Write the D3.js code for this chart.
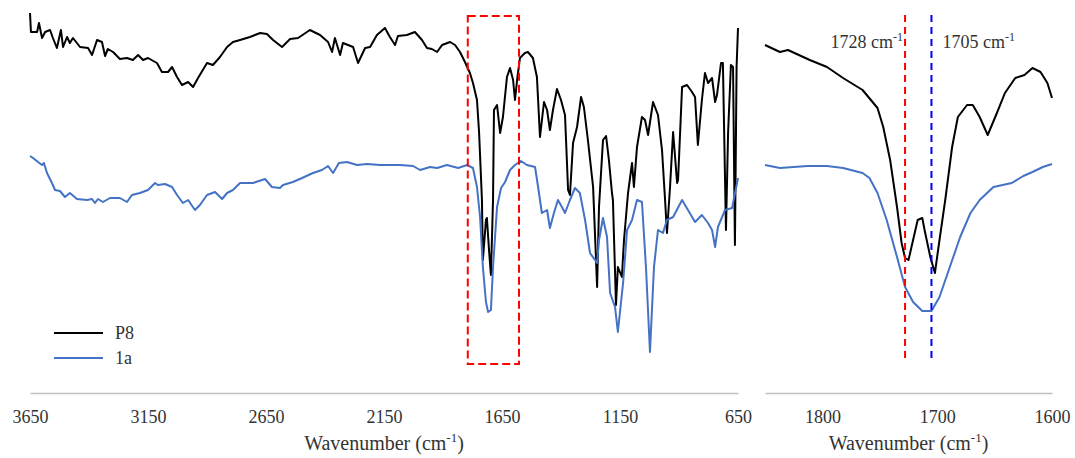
<!DOCTYPE html>
<html lang="en">
<head>
  <meta charset="UTF-8" />
  <title>FTIR – P8 vs 1a</title>
  <script src="https://d3js.org/d3.v7.min.js"></script>
  <style>
    body {
      margin: 0;
      background: #fff;
    }
    svg {
      display: block;
    }
    svg text {
      font-family: "Liberation Serif", "Times New Roman", serif;
    }
    .axis text {
      font-size: 18px;
      fill: #333;
    }
    .axis .domain {
      stroke: #bfbfbf;
      stroke-width: 1.5;
    }
    .title {
      font-size: 20px;
      fill: #333;
    }
  </style>
</head>
<body>
  <svg width="1075" height="458"></svg>

  <script>
    // full range spectra [wavenumber, transmittance a.u.]
    const p8Full = [
      [3650, 96.75], [3646, 92], [3620, 92], [3612, 94.25], [3599, 90.5], [3586, 92], [3565, 92.5],
      [3553, 90.5], [3536, 88], [3519, 92.5], [3510, 88.25], [3493, 90.75], [3481, 89.25], [3468, 90.5],
      [3438, 88.25], [3404, 88], [3387, 86.25], [3366, 90], [3345, 89.5], [3332, 86], [3320, 87.75],
      [3298, 87], [3269, 85.25], [3239, 85.5], [3214, 85], [3192, 86.25], [3171, 85], [3150, 85.5],
      [3112, 84.25], [3091, 82], [3065, 82], [3048, 83.25], [3027, 80.75], [3006, 78.75], [2980, 79.5],
      [2959, 78.25], [2938, 80.5], [2900, 84.25], [2875, 83.75], [2845, 85.75], [2815, 88.25],
      [2790, 89.5], [2760, 90], [2718, 90.75], [2675, 91.75], [2646, 91.5], [2620, 90], [2582, 88.25],
      [2548, 90.25], [2514, 90.5], [2464, 92.5], [2421, 91.25], [2387, 89.5], [2370, 87], [2358, 90.5],
      [2336, 86.25], [2324, 89.25], [2281, 88.25], [2260, 84.25], [2230, 88], [2209, 88.25],
      [2180, 91.25], [2146, 93], [2125, 90.75], [2103, 88.75], [2091, 91], [2053, 91.25], [2019, 92],
      [1989, 90], [1968, 88], [1947, 87.75], [1925, 87], [1904, 88.75], [1870, 89.5], [1849, 88.75],
      [1828, 87], [1807, 84.5], [1786, 81.75], [1773, 79.25], [1756, 75], [1747, 66.75], [1735, 50],
      [1731, 35], [1718, 45], [1714, 45.5], [1705, 37.5], [1697, 31.25], [1688, 50], [1684, 72.5],
      [1671, 73.75], [1658, 66.75], [1646, 70.75], [1629, 80.75], [1616, 83], [1603, 80], [1595, 75],
      [1586, 80], [1574, 85.5], [1553, 86.75], [1540, 87], [1519, 85.5], [1502, 80.75], [1489, 65.75],
      [1472, 74.5], [1459, 72.5], [1447, 67.5], [1434, 72.5], [1417, 77.75], [1400, 75], [1383, 71.25],
      [1370, 52.5], [1362, 51.25], [1349, 64.25], [1332, 68.25], [1315, 75.75], [1303, 73.25],
      [1286, 65], [1264, 53.25], [1247, 28.25], [1239, 48.25], [1222, 65], [1209, 66], [1197, 60],
      [1184, 51.75], [1180, 50], [1167, 23.75], [1159, 33.25], [1142, 30.75], [1133, 40], [1116, 51.75],
      [1099, 59.25], [1091, 53.25], [1078, 63.25], [1057, 70.75], [1044, 70], [1031, 66.25],
      [1010, 74.5], [989, 71.25], [972, 62.5], [959, 50], [951, 41.75], [938, 53.25], [925, 67],
      [908, 54.25], [904, 55], [887, 78.25], [866, 78.75], [845, 77], [832, 75.75], [820, 63.75],
      [803, 75], [790, 81.75], [777, 79.25], [760, 80.5], [747, 74.5], [739, 76.25], [722, 84.25],
      [714, 84.25], [701, 42.5], [692, 66.75], [680, 83.75], [671, 83.25], [663, 38.75], [656, 83.25],
      [650, 93]
    ];

    const a1Full = [
      [3650, 61], [3637, 60.5], [3616, 59.5], [3599, 58.75], [3591, 59.25], [3578, 56.75], [3557, 54.25],
      [3544, 52.5], [3523, 52.25], [3502, 50.75], [3481, 51.75], [3451, 50.25], [3408, 50], [3387, 50.25],
      [3375, 49.25], [3362, 50.25], [3341, 49.5], [3311, 50.5], [3269, 50.5], [3239, 49.5], [3218, 51.25],
      [3184, 51.75], [3150, 52.5], [3120, 54.25], [3108, 53.75], [3078, 54], [3048, 53.25], [3027, 51.25],
      [3002, 49.25], [2980, 50], [2951, 47.5], [2930, 48.75], [2900, 51.25], [2866, 52], [2836, 50.25],
      [2815, 51.75], [2790, 52.5], [2760, 54.25], [2705, 54.25], [2654, 55.25], [2625, 53.25],
      [2591, 53], [2578, 53.75], [2536, 54.5], [2497, 55.5], [2451, 56.75], [2413, 57.5], [2387, 58.5],
      [2366, 56.75], [2341, 59.25], [2307, 59.5], [2264, 58.75], [2222, 59], [2167, 58.75], [2082, 58.75],
      [2027, 58.5], [1997, 57.5], [1955, 58.25], [1925, 58], [1883, 58.75], [1836, 58], [1798, 58.75],
      [1773, 58], [1756, 53.25], [1743, 45.75], [1731, 33.25], [1718, 24.5], [1709, 22], [1697, 22.5],
      [1688, 33.25], [1671, 48.25], [1654, 53], [1637, 54.5], [1616, 57.5], [1595, 58.75], [1570, 59.75],
      [1544, 58.75], [1510, 58.25], [1497, 53.25], [1481, 46.75], [1459, 47.5], [1447, 43], [1430, 46.75],
      [1413, 50], [1396, 48.25], [1383, 46.75], [1362, 50], [1341, 53], [1320, 51.75], [1298, 45],
      [1277, 36.75], [1247, 34.25], [1239, 40], [1222, 45.5], [1205, 40.75], [1192, 26.75], [1171, 23.25],
      [1159, 17], [1137, 29.25], [1120, 42.5], [1099, 45], [1078, 50], [1057, 49.5], [1040, 33.25],
      [1023, 12], [1006, 33.25], [989, 42.5], [968, 41.75], [951, 45], [925, 45.75], [887, 50],
      [862, 47.5], [832, 44.5], [803, 46.25], [777, 44.25], [760, 42.5], [747, 38.25], [735, 43.25],
      [705, 47.5], [675, 48], [650, 55.5]
    ];

    // carbonyl region close-up
    const p8Zoom = [
      [1850, 88.75], [1837, 87], [1830, 87.5], [1811, 85], [1796, 83.25], [1782, 80.5], [1765, 77.5],
      [1752, 73], [1747, 68.25], [1741, 60], [1735, 48.25], [1731, 39.25], [1728, 35.5], [1725, 35],
      [1721, 40], [1717, 45], [1713, 45.5], [1711, 42.5], [1706, 35.75], [1702, 31.75], [1698, 40],
      [1693, 50], [1687, 63.25], [1682, 70.75], [1674, 73.75], [1669, 73.75], [1663, 70.75],
      [1656, 66.25], [1648, 71.75], [1641, 76.75], [1632, 80.5], [1624, 81.25], [1617, 83], [1610, 82],
      [1604, 79.25], [1600, 75.5]
    ];

    const a1Zoom = [
      [1850, 58.75], [1837, 58], [1813, 58.5], [1796, 58.5], [1782, 58], [1765, 56.75], [1759, 55.5],
      [1752, 51.75], [1744, 45], [1735, 35.75], [1728, 28.25], [1721, 24.5], [1713, 22.25], [1705, 22.25],
      [1698, 25.75], [1689, 33.25], [1680, 40.75], [1671, 46.75], [1663, 50], [1651, 53.25],
      [1635, 54.25], [1625, 56], [1617, 57], [1608, 58.25], [1600, 59]
    ];

    const fullTicks = [3650, 3150, 2650, 2150, 1650, 1150, 650];
    const zoomTicks = [1800, 1700, 1600];
    const boxWn = [1795, 1578];
    const boxT = [96, 9];
    const peaks = [
      { wn: 1728, label: "1728 cm", color: "#ff0000", side: "left" },
      { wn: 1705, label: "1705 cm", color: "#0000ff", side: "right" }
    ];
    const peakT = [96.25, 10.5];
    const series = [
      { name: "P8", color: "#000000" },
      { name: "1a", color: "#4472c4" }
    ];

    const svg = d3.select("svg");
    const axisY = 393;

    const y = d3.scaleLinear().domain([0, 100]).range([400, 0]);
    const xFull = d3.scaleLinear().domain([3650, 650]).range([30, 738]);
    const xZoom = d3.scaleLinear().domain([1850, 1600]).range([765, 1052]);

    function drawPanel(x, data, ticks) {
      const line = d3.line().x(d => x(d[0])).y(d => y(d[1]));
      const g = svg.append("g");

      const axis = g.append("g")
        .attr("class", "axis")
        .attr("transform", `translate(0,${axisY})`)
        .call(d3.axisBottom(x).tickValues(ticks).tickSize(0).tickPadding(17).tickFormat(d3.format("d")));
      axis.attr("font-family", null).attr("font-size", null);
      axis.selectAll("text").attr("fill", "#333");

      data.forEach((d, i) => {
        g.append("path")
          .datum(d)
          .attr("fill", "none")
          .attr("stroke", series[i].color)
          .attr("stroke-width", 2)
          .attr("stroke-linejoin", "round")
          .attr("d", line);
      });

      const mid = (x.range()[0] + x.range()[1]) / 2;
      const t = g.append("text")
        .attr("class", "title")
        .attr("x", mid)
        .attr("y", 450)
        .attr("text-anchor", "middle");
      t.append("tspan").text("Wavenumber (cm");
      t.append("tspan").attr("font-size", 13).attr("dy", -8).text("-1");
      t.append("tspan").attr("dy", 8).text(")");
      return g;
    }

    drawPanel(xFull, [p8Full, a1Full], fullTicks);
    drawPanel(xZoom, [p8Zoom, a1Zoom], zoomTicks);

    // dashed box marking carbonyl region
    svg.append("rect")
      .attr("x", xFull(boxWn[0]))
      .attr("y", y(boxT[0]))
      .attr("width", xFull(boxWn[1]) - xFull(boxWn[0]))
      .attr("height", y(boxT[1]) - y(boxT[0]))
      .attr("fill", "none")
      .attr("stroke", "#ff0000")
      .attr("stroke-width", 2)
      .attr("stroke-dasharray", "8,4");

    // peak markers
    peaks.forEach(p => {
      const px = xZoom(p.wn);
      svg.append("line")
        .attr("x1", px).attr("x2", px)
        .attr("y1", y(peakT[0])).attr("y2", y(peakT[1]))
        .attr("stroke", p.color)
        .attr("stroke-width", 2)
        .attr("stroke-dasharray", "7,5");

      const t = svg.append("text")
        .attr("x", p.side === "left" ? px - 2 : px + 11)
        .attr("y", 48)
        .attr("font-size", 18)
        .attr("fill", "#333")
        .attr("text-anchor", p.side === "left" ? "end" : "start");
      t.append("tspan").text(p.label);
      t.append("tspan").attr("font-size", 12).attr("dy", -7).text("-1");
    });

    // legend
    const legend = svg.append("g").attr("transform", "translate(54,333)");
    series.forEach((s, i) => {
      const row = legend.append("g").attr("transform", `translate(0,${i * 25})`);
      row.append("line")
        .attr("x1", 0).attr("x2", 49)
        .attr("stroke", s.color)
        .attr("stroke-width", 2);
      row.append("text")
        .attr("x", 61)
        .attr("y", 6)
        .attr("font-size", 18)
        .attr("fill", "#333")
        .text(s.name);
    });
  </script>
</body>
</html>
